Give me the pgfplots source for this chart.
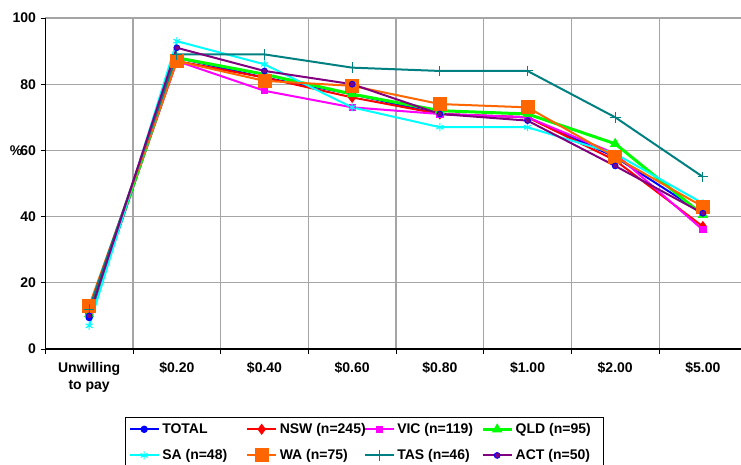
\documentclass[border=0pt]{standalone}
\usepackage{fontspec}
\setmainfont{Liberation Sans}
\usepackage{pgfplots}
\pgfplotsset{compat=1.18}
\definecolor{cTotal}{RGB}{0,0,255}
\definecolor{cNSW}{RGB}{255,0,0}
\definecolor{cVIC}{RGB}{255,0,255}
\definecolor{cQLD}{RGB}{0,255,0}
\definecolor{cSA}{RGB}{0,255,255}
\definecolor{cWA}{RGB}{255,102,0}
\definecolor{cTAS}{RGB}{0,128,128}
\definecolor{cACT}{RGB}{128,0,128}
\definecolor{gridgray}{RGB}{165,165,165}
\newcommand{\lb}[1]{\makebox[61pt][l]{#1}}
\begin{document}
\begin{tikzpicture}
\begin{axis}[
    name=ax,
    scale only axis,
    width=521.8pt, height=248.25pt,
    xmin=-0.5, xmax=7.435,
    ymin=0, ymax=100,
    axis x line*=bottom, axis y line*=left,
    axis line style={black, line width=0.9pt},
    xtick={0,...,7},
    xticklabels={{Unwilling\\to pay},{\$0.20},{\$0.40},{\$0.60},{\$0.80},{\$1.00},{\$2.00},{\$5.00}},
    minor xtick={-0.5,0.5,...,7.5},
    major x tick style={draw=none},
    minor x tick style={black, line width=0.6pt},
    xminorgrids=true,
    ytick={0,20,...,100},
    ymajorgrids=true,
    grid style={gridgray, line width=0.8pt},
    minor grid style={gridgray, line width=0.8pt},
    tick align=outside,
    major tick length=3.5pt, minor tick length=3.5pt,
    y tick style={black, line width=0.6pt},
    /pgf/number format/assume math mode=true,
    ticklabel style={font=\fontsize{10.5}{12.5}\selectfont\bfseries},
    xticklabel style={align=center, yshift=-3pt},
    ylabel={\%},
    ylabel style={at={(axis description cs:-0.042,0.6)}, rotate=-90, anchor=center, font=\fontsize{10.5}{12.5}\selectfont\bfseries},
    legend columns=4,
    legend style={at={(0.1146,-0.205)}, anchor=north west, draw=black, line width=0.6pt,
        font=\fontsize{10.5}{12.5}\selectfont\bfseries, row sep=6.5pt, inner sep=2.5pt},
    legend cell align=left,
    legend image code/.code={\draw[mark repeat=2,mark phase=2] plot coordinates {(0cm,0cm) (0.38cm,0cm) (0.76cm,0cm)};},
    every axis plot/.append style={line width=1.5pt},
]
\addplot[cTotal, mark=*, mark size=2pt] coordinates {(0,9.5) (1,88) (2,82) (3,77) (4,71) (5,70) (6,58) (7,41)};
\addlegendentry{\lb{TOTAL}}
\addplot[cNSW, mark=diamond*, mark size=3pt] coordinates {(0,11) (1,87) (2,82) (3,76) (4,71) (5,70) (6,57) (7,37)};
\addlegendentry{\lb{NSW (n=245)}}
\addplot[cVIC, mark=square*, mark size=2pt] coordinates {(0,11) (1,87) (2,78) (3,73) (4,71) (5,70) (6,59) (7,36)};
\addlegendentry{\lb{VIC (n=119)}}
\addplot[cQLD, line width=2.25pt, mark=triangle*, mark size=4pt, mark options={line width=0.5pt}] coordinates {(0,10.5) (1,88) (2,83) (3,77) (4,72) (5,71) (6,62) (7,40.5)};
\addlegendentry{\lb{QLD (n=95)}}
\addplot[cSA, mark=asterisk, mark size=3pt, mark options={line width=0.8pt}] coordinates {(0,7) (1,93) (2,86) (3,73) (4,67) (5,67) (6,59) (7,44)};
\addlegendentry{\lb{SA (n=48)}}
\addplot[cWA, mark=square*, mark size=4.5pt] coordinates {(0,13) (1,87) (2,81) (3,79.5) (4,74) (5,73) (6,58) (7,43)};
\addlegendentry{\lb{WA (n=75)}}
\addplot[cTAS, mark=+, mark size=4pt, mark options={line width=0.8pt}] coordinates {(0,12) (1,89) (2,89) (3,85) (4,84) (5,84) (6,70) (7,52)};
\addlegendentry{\lb{TAS (n=46)}}
\addplot[cACT, mark=*, mark size=2.2pt, mark options={fill=cACT, draw=cTotal, line width=0.6pt}] coordinates {(0,10) (1,91) (2,84) (3,80) (4,71) (5,69) (6,55.3) (7,41)};
\addlegendentry{\lb{ACT (n=50)}}
\end{axis}
\pgfresetboundingbox
\path (ax.south west) ++(-34pt,-87pt) coordinate (bl);
\path (ax.north east) ++(0pt,13.5pt) coordinate (tr);
\path[use as bounding box] (bl) rectangle (tr);
\end{tikzpicture}
\end{document}
